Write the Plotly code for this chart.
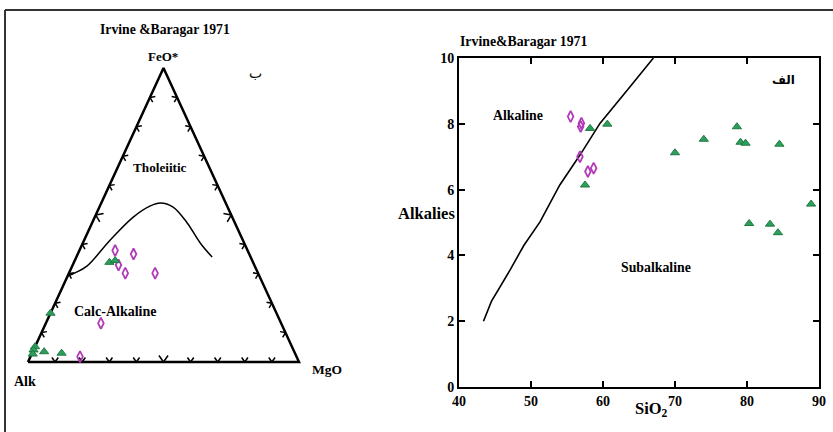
import math
import plotly.graph_objects as go

W, H = 833, 432

# ---------------- Data: AFM ternary (percent Alk, FeO*, MgO) ----------------
afm_curve_alk = [70.5, 67.5, 61.8, 48.9, 36.5, 28.3, 24.1, 20.1, 17.6, 16.2, 14.2]
afm_curve_feo = [29.3, 30.3, 32.7, 41.5, 49.3, 53.1, 54.1, 52.7, 47.3, 40.5, 35.7]
afm_curve_mgo = [0.2, 2.2, 5.5, 9.6, 14.2, 18.6, 21.8, 27.2, 35.1, 43.3, 50.1]

afm_dia_alk = [48.9, 42.7, 50.1, 49.0, 38.0, 66.5, 79.9]
afm_dia_feo = [37.9, 36.7, 33.0, 30.2, 30.2, 13.2, 1.8]
afm_dia_mgo = [13.2, 20.6, 16.9, 20.8, 31.8, 20.3, 18.3]

afm_tri_alk = [53.0, 50.6, 83.4, 94.8, 95.9, 96.9, 92.3, 86.1]
afm_tri_feo = [33.9, 34.5, 16.6, 5.2, 4.1, 2.7, 3.5, 3.0]
afm_tri_mgo = [13.1, 14.9, 0.0, 0.0, 0.0, 0.4, 4.2, 10.9]

# ---------------- Data: SiO2 vs Alkalies ----------------
div_sio2 = [43.4, 44.5, 47.1, 49.0, 51.25, 54.0, 56.8, 59.6, 63.5, 67.0]
div_alk = [2.0, 2.6, 3.56, 4.3, 5.02, 6.14, 7.05, 8.02, 9.06, 10.0]

dia_sio2 = [55.5, 57.0, 56.9, 56.8, 57.9, 58.7]
dia_alk = [8.22, 8.02, 7.92, 7.0, 6.55, 6.65]

tri_sio2 = [58.2, 60.6, 57.5, 70.0, 74.0, 78.6, 79.1, 79.8, 84.5, 88.9, 80.3, 83.2, 84.3]
tri_alk = [7.86, 7.99, 6.14, 7.12, 7.53, 7.91, 7.44, 7.41, 7.38, 5.56, 4.97, 4.95, 4.69]

x_ticks = [40, 50, 60, 70, 80, 90]
y_ticks = [0, 2, 4, 6, 8, 10]

# ---------------- Style / geometry ----------------
SERIF = "Liberation Serif, Times New Roman, serif"
DIA_COLOR = "#b23ab8"
TRI_COLOR = "#2e9e5b"
TRI_EDGE = "#1d7a43"

# ternary canvas (pixels): Alk (28,362), MgO (299,362), FeO* apex on top
T_X0, T_Y0 = 28.0, 362.0
T_SX, T_SY = 271.0, 294.0


def to_xy(a, f, m):
    xs, ys = [], []
    for ai, fi, mi in zip(a, f, m):
        s = ai + fi + mi
        F, M = fi / s, mi / s
        xs.append(M + F / 2.0)
        ys.append(F)
    return xs, ys


def P(px, py):
    return px / W, 1 - py / H


tern_xr = [-0.1, 1.1]
tern_yr = [-0.1, 1.1]
tx_dom = [(T_X0 + tern_xr[0] * T_SX) / W, (T_X0 + tern_xr[1] * T_SX) / W]
ty_dom = [(H - (T_Y0 - tern_yr[0] * T_SY)) / H, (H - (T_Y0 - tern_yr[1] * T_SY)) / H]

fig = go.Figure()

# triangle outline
ox, oy = to_xy([100, 0, 0, 100], [0, 0, 100, 0], [0, 100, 0, 0])
fig.add_trace(go.Scatter(x=ox, y=oy, mode="lines", line=dict(color="black", width=2.5),
                         xaxis="x", yaxis="y", hoverinfo="skip", showlegend=False))

# chevron tick marks every 10 %, apex on the edge, arms pointing inward
edges = [((0, 0), (1, 0)), ((0, 0), (0.5, 1)), ((1, 0), (0.5, 1))]
cx, cy = [], []
for (x0, y0), (x1, y1) in edges:
    dxp = (x1 - x0) * T_SX
    dyp = -(y1 - y0) * T_SY
    L = math.hypot(dxp, dyp)
    ux, uy = dxp / L, dyp / L
    mxp = ((x0 + x1) / 2 - 0.5) * T_SX
    myp = -((y0 + y1) / 2 - 1 / 3) * T_SY
    nx, ny = -uy, ux
    if nx * (-mxp) + ny * (-myp) < 0:
        nx, ny = -nx, -ny
    for k in range(1, 10):
        t = k / 10
        px = x0 + (x1 - x0) * t
        py = y0 + (y1 - y0) * t
        s = 6.5 if k == 5 else 4.5
        for sgn in (-1, 1):
            ex = s * nx + sgn * 0.7 * s * ux
            ey = s * ny + sgn * 0.7 * s * uy
            cx += [px + ex / T_SX, px, None]
            cy += [py - ey / T_SY, py, None]
fig.add_trace(go.Scatter(x=cx, y=cy, mode="lines", line=dict(color="black", width=1.5),
                         xaxis="x", yaxis="y", hoverinfo="skip", showlegend=False))

# tholeiitic / calc-alkaline divide
kx, ky = to_xy(afm_curve_alk, afm_curve_feo, afm_curve_mgo)
fig.add_trace(go.Scatter(x=kx, y=ky, mode="lines", line=dict(color="black", width=1.5, shape="spline"),
                         xaxis="x", yaxis="y", hoverinfo="skip", showlegend=False))

dx_, dy_ = to_xy(afm_dia_alk, afm_dia_feo, afm_dia_mgo)
fig.add_trace(go.Scatter(x=dx_, y=dy_, mode="markers", cliponaxis=False,
                         marker=dict(symbol="diamond-tall-open", size=8, color=DIA_COLOR,
                                     line=dict(width=1.8, color=DIA_COLOR)),
                         xaxis="x", yaxis="y", showlegend=False))
tx_, ty_ = to_xy(afm_tri_alk, afm_tri_feo, afm_tri_mgo)
fig.add_trace(go.Scatter(x=tx_, y=ty_, mode="markers", cliponaxis=False,
                         marker=dict(symbol="triangle-up", size=8, color=TRI_COLOR,
                                     line=dict(width=1, color=TRI_EDGE)),
                         xaxis="x", yaxis="y", showlegend=False))

# ---------------- Right panel ----------------
fig.add_trace(go.Scatter(x=div_sio2, y=div_alk, mode="lines", line=dict(color="black", width=1.6),
                         xaxis="x2", yaxis="y2", hoverinfo="skip", showlegend=False))
fig.add_trace(go.Scatter(x=dia_sio2, y=dia_alk, mode="markers", cliponaxis=False,
                         marker=dict(symbol="diamond-tall-open", size=8, color=DIA_COLOR,
                                     line=dict(width=1.8, color=DIA_COLOR)),
                         xaxis="x2", yaxis="y2", showlegend=False))
fig.add_trace(go.Scatter(x=tri_sio2, y=tri_alk, mode="markers", cliponaxis=False,
                         marker=dict(symbol="triangle-up", size=8, color=TRI_COLOR,
                                     line=dict(width=1, color=TRI_EDGE)),
                         xaxis="x2", yaxis="y2", showlegend=False))

axfont = dict(family=SERIF, size=14, color="black")
fig.update_layout(
    width=W, height=H, autosize=False,
    margin=dict(l=0, r=0, t=0, b=0, pad=0, autoexpand=False),
    paper_bgcolor="white", plot_bgcolor="rgba(0,0,0,0)",
    showlegend=False,
    xaxis=dict(domain=tx_dom, range=tern_xr, visible=False, fixedrange=True, automargin=False),
    yaxis=dict(domain=ty_dom, range=tern_yr, visible=False, fixedrange=True, automargin=False),
    xaxis2=dict(domain=[459 / W, 819 / W], range=[40, 90], anchor="y2", automargin=False,
                tickvals=x_ticks, ticktext=[f"<b>{v}</b>" for v in x_ticks],
                ticks="inside", ticklen=6, tickwidth=2, tickcolor="black",
                showline=True, linewidth=2, linecolor="black", mirror="ticks",
                showgrid=False, zeroline=False, tickfont=axfont),
    yaxis2=dict(domain=[(H - 387) / H, (H - 58) / H], range=[0, 10], anchor="x2", automargin=False,
                tickvals=y_ticks, ticktext=[f"<b>{v}</b>" for v in y_ticks],
                ticks="inside", ticklen=6, tickwidth=2, tickcolor="black",
                showline=True, linewidth=2, linecolor="black", mirror="ticks",
                showgrid=False, zeroline=False, tickfont=axfont),
)

# outer frame (left and top edges visible)
fig.add_shape(type="line", xref="paper", yref="paper", x0=5 / W, x1=5 / W, y0=0, y1=1 - 10 / H,
              line=dict(color="#333", width=2))
fig.add_shape(type="line", xref="paper", yref="paper", x0=5 / W, x1=1, y0=1 - 10 / H, y1=1 - 10 / H,
              line=dict(color="#333", width=2))


def ann(text, px, py, size=14, family=SERIF):
    x, y = P(px, py)
    fig.add_annotation(x=x, y=y, xref="paper", yref="paper", text=text, showarrow=False,
                       xanchor="center", yanchor="middle",
                       font=dict(family=family, size=size, color="black"))


ann("<b>Irvine &Baragar 1971</b>", 165, 29, 13.7)
ann("<b>FeO*</b>", 163, 56, 13)
ann("ب", 255, 73, 14, family="DejaVu Sans")
ann("<b>Tholeiitic</b>", 160, 168, 13.2)
ann("<b>Calc-Alkaline</b>", 115, 311, 14)
ann("<b>Alk</b>", 25, 381, 14)
ann("<b>MgO</b>", 327, 369, 13.5)

ann("<b>Irvine&Baragar 1971</b>", 523, 42, 13.8)
ann("<b>Alkaline</b>", 518, 115, 13.8)
ann("<b>Subalkaline</b>", 656, 267, 13.8)
ann("<b>الف</b>", 783, 80, 12, family="DejaVu Sans")
ann("<b>Alkalies</b>", 427, 213, 16.5)
ann("<b>SiO<sub>2</sub></b>", 651, 409, 16.5)

# remove the default page margin so the figure sits at the window origin
fig.write_html("out.html", config={"displayModeBar": False},
               post_script="document.body.style.margin='0';")
